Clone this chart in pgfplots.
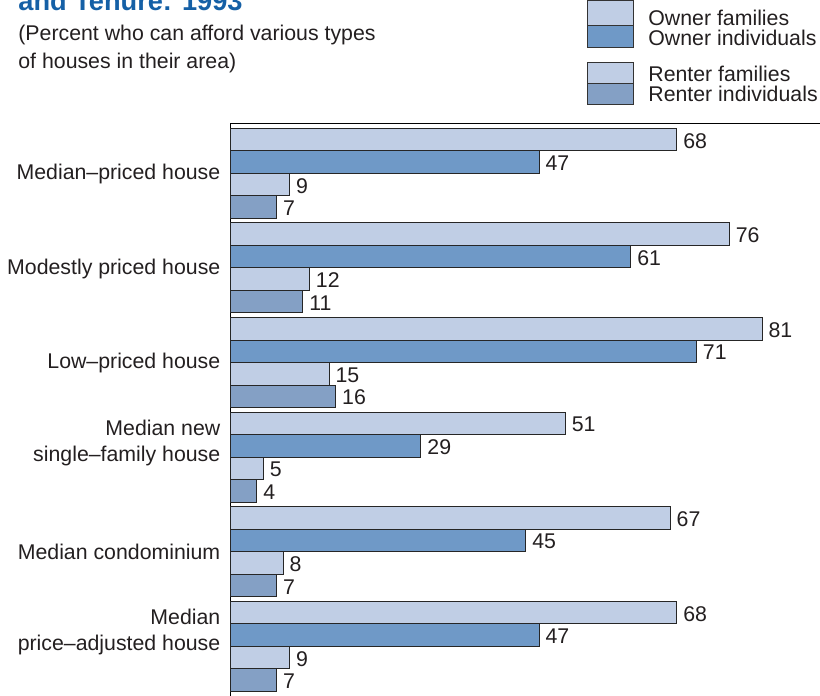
\documentclass[border=0pt]{standalone}
\usepackage{fontspec}
\setmainfont{Liberation Sans}
\usepackage{pgfplots}
\pgfplotsset{compat=1.18}

\definecolor{ownfam}{HTML}{C0CEE5}
\definecolor{ownind}{HTML}{6F99C7}
\definecolor{rentind}{HTML}{84A0C5}
\definecolor{titleblue}{HTML}{1560A6}
\definecolor{ink}{HTML}{231F20}

\begin{document}
\begin{tikzpicture}[x=0.5pt,y=0.5pt,font=\fontsize{10.65}{13}\selectfont,text=ink]
% title, cut at the top as in the source
\node[anchor=base west,inner sep=0,text=titleblue,font=\fontsize{13.6}{16}\selectfont\bfseries] at (18,685) {and Tenure: 1993};
\node[anchor=base west,inner sep=0] at (18,655) {(Percent who can afford various types};
\node[anchor=base west,inner sep=0] at (18,627) {of houses in their area)};

% legend
\begin{scope}[draw=black!80,line width=0.5pt]
  \filldraw[fill=ownfam]  (587,695)   rectangle (633,670);
  \filldraw[fill=ownind]  (587,670)   rectangle (633,648.3);
  \filldraw[fill=ownfam]  (587,633.3) rectangle (633,612.7);
  \filldraw[fill=rentind] (587,612.7) rectangle (633,591.7);
\end{scope}
\node[anchor=base west,inner sep=0] at (648,670) {Owner families};
\node[anchor=base west,inner sep=0] at (648,650.5) {Owner individuals};
\node[anchor=base west,inner sep=0] at (648,614) {Renter families};
\node[anchor=base west,inner sep=0] at (648,594) {Renter individuals};

\begin{axis}[
  at={(115.35pt,286.35pt)}, anchor=north west,
  x=3.28pt, y=47.3pt,
  xmin=0, xmax=90, ymin=-0.6, ymax=5.529,
  axis x line*=top, axis y line*=left,
  axis line style={black, line width=0.6pt},
  xtick=\empty,
  ytick={0,...,5},
  yticklabels={{Median\\price–adjusted house\\[4pt]\mbox{}},
               Median condominium,
               {Median new\\single–family house\\[4pt]\mbox{}},
               Low–priced house,
               Modestly priced house,
               Median–priced house},
  yticklabel style={align=right, inner sep=0pt, xshift=-5pt, yshift=-0.3pt,
                    font=\fontsize{10.65}{13}\selectfont, text=ink},
  major tick length=0pt,
  xbar, bar width=11.25pt,
  point meta=x,
  /pgf/number format/assume math mode=true,
  nodes near coords,
  nodes near coords style={anchor=west, inner sep=0pt, xshift=3pt, yshift=-0.6pt,
                           font=\fontsize{10.65}{13}\selectfont, text=ink},
  clip=false,
]
\addplot[fill=ownfam, draw=black!85, line width=0.5pt, bar shift=16.875pt]
  coordinates {(68,0) (67,1) (51,2) (81,3) (76,4) (68,5)};
\addplot[fill=ownind, draw=black!85, line width=0.5pt, bar shift=5.625pt]
  coordinates {(47,0) (45,1) (29,2) (71,3) (61,4) (47,5)};
\addplot[fill=ownfam, draw=black!85, line width=0.5pt, bar shift=-5.625pt]
  coordinates {(9,0) (8,1) (5,2) (15,3) (12,4) (9,5)};
\addplot[fill=rentind, draw=black!85, line width=0.5pt, bar shift=-16.875pt]
  coordinates {(7,0) (7,1) (4,2) (16,3) (11,4) (7,5)};
\end{axis}

\pgfresetboundingbox
\useasboundingbox (0,0) rectangle (820,696);
\end{tikzpicture}
\end{document}
